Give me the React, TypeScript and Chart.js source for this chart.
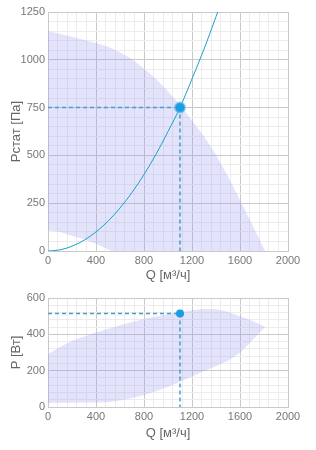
import React, { useEffect, useRef } from "react";
import { Chart, registerables } from "chart.js";

Chart.register(...registerables);

// ---- Data ----
const topUpperQ = [0, 200, 400, 500, 600, 700, 800, 900, 1000, 1100, 1200, 1300, 1400, 1500, 1600, 1700, 1810];
const topUpperP = [1150, 1120, 1088, 1068, 1040, 1003, 955, 900, 835, 764, 683, 600, 503, 390, 267, 140, 0];
const topLowerQ = [530, 480, 400, 300, 200, 100, 0];
const topLowerP = [0, 15, 38, 62, 80, 100, 110];

const systemQ = [0, 100, 200, 300, 400, 500, 600, 700, 800, 900, 1000, 1100, 1200, 1300, 1400, 1414];
const systemP = [0, 6, 25, 56, 100, 156, 225, 306, 400, 506, 625, 750, 900, 1056, 1225, 1250];

const dutyQ = 1100;
const dutyPstat = 750;
const dutyPower = 514;

const powUpperQ = [0, 100, 200, 400, 600, 800, 1000, 1200, 1300, 1400, 1500, 1600, 1700, 1810];
const powUpperP = [290, 330, 365, 410, 450, 485, 512, 533, 540, 538, 525, 500, 475, 440];
const powLowerQ = [1750, 1700, 1600, 1500, 1400, 1300, 1200, 1100, 1000, 900, 800, 700, 600, 500, 0];
const powLowerP = [400, 365, 298, 255, 225, 198, 168, 138, 112, 87, 66, 50, 36, 26, 22];

const xTitle = "Q [м³/ч]";
const topYTitle = "Pстат [Па]";
const bottomYTitle = "P [Вт]";

// ---- Styles ----
const FONT = "'Liberation Sans', Arial, sans-serif";
const MAJOR = "#c9c9c9";
const MINOR = "#ececec";
const FILL = "rgba(150,150,245,0.27)";
const CURVE = "#1ba2c6";
const DASH = "#4a9dc8";
const DOT = "#1b9de2";

const pts = (xs: number[], ys: number[]) => xs.map((x, i) => ({ x, y: ys[i] }));

function makeScales(opts: {
  yMax: number;
  yStep: number;
  yMajor: number;
  yTitle: string;
  xHeight: number;
  xTitlePadBottom: number;
}) {
  return {
    x: {
      type: "linear",
      min: 0,
      max: 2000,
      ticks: {
        stepSize: 80,
        autoSkip: false,
        maxRotation: 0,
        padding: 3,
        color: "#777",
        font: { size: 11, family: FONT },
        callback: (v: any) => (Number(v) % 400 === 0 ? String(v) : ""),
      },
      grid: {
        color: (ctx: any) => (ctx.tick && ctx.tick.value % 400 === 0 ? MAJOR : MINOR),
        drawTicks: false,
      },
      border: { color: MAJOR },
      title: {
        display: true,
        text: xTitle,
        color: "#666",
        font: { size: 13, family: FONT },
        padding: { top: 0, bottom: opts.xTitlePadBottom },
      },
      afterFit: (s: any) => {
        s.height = opts.xHeight;
      },
    },
    y: {
      type: "linear",
      min: 0,
      max: opts.yMax,
      ticks: {
        stepSize: opts.yStep,
        autoSkip: false,
        padding: 3,
        color: "#777",
        font: { size: 11, family: FONT },
        callback: (v: any) => (Number(v) % opts.yMajor === 0 ? String(v) : ""),
      },
      grid: {
        color: (ctx: any) => (ctx.tick && ctx.tick.value % opts.yMajor === 0 ? MAJOR : MINOR),
        drawTicks: false,
      },
      border: { color: MAJOR },
      title: {
        display: true,
        text: opts.yTitle,
        color: "#666",
        font: { size: 13, family: FONT },
        padding: { top: 9, bottom: 0 },
      },
      afterFit: (s: any) => {
        s.width = 48;
      },
    },
  };
}

function baseOptions(scales: any, padTop: number) {
  return {
    responsive: false,
    animation: false,
    events: [],
    layout: { padding: { top: padTop, right: 28, left: 0, bottom: 0 } },
    plugins: { legend: { display: false }, tooltip: { enabled: false } },
    scales,
  };
}

function TopChart() {
  const ref = useRef<HTMLCanvasElement>(null);
  useEffect(() => {
    if (!ref.current) return;
    const chart = new Chart(ref.current, {
      type: "line",
      data: {
        datasets: [
          {
            data: [{ x: dutyQ, y: dutyPstat }],
            showLine: false,
            pointRadius: 5,
            pointBorderWidth: 2,
            pointBackgroundColor: DOT,
            pointBorderColor: "rgba(90,185,235,0.6)",
            order: 0,
          },
          {
            data: [
              { x: 0, y: dutyPstat },
              { x: dutyQ, y: dutyPstat },
            ],
            borderColor: DASH,
            borderWidth: 1.5,
            borderDash: [4, 3],
            pointRadius: 0,
            fill: false,
            order: 1,
          },
          {
            data: [
              { x: dutyQ, y: dutyPstat },
              { x: dutyQ, y: 0 },
            ],
            borderColor: DASH,
            borderWidth: 1.5,
            borderDash: [4, 3],
            pointRadius: 0,
            fill: false,
            order: 1,
          },
          {
            data: pts(systemQ, systemP),
            borderColor: CURVE,
            borderWidth: 1,
            cubicInterpolationMode: "monotone",
            pointRadius: 0,
            fill: false,
            order: 2,
          },
          {
            data: pts(topUpperQ, topUpperP).concat(pts(topLowerQ, topLowerP)),
            borderColor: "transparent",
            borderWidth: 0,
            backgroundColor: FILL,
            pointRadius: 0,
            tension: 0,
            fill: "shape",
            order: 3,
          },
        ],
      },
      options: baseOptions(
        makeScales({ yMax: 1250, yStep: 50, yMajor: 250, yTitle: topYTitle, xHeight: 32, xTitlePadBottom: 0 }),
        12
      ) as any,
    } as any);
    return () => chart.destroy();
  }, []);
  return (
    <canvas
      ref={ref}
      width={316}
      height={283}
      style={{ position: "absolute", left: 0, top: 0, width: 316, height: 283, display: "block" }}
    />
  );
}

function BottomChart() {
  const ref = useRef<HTMLCanvasElement>(null);
  useEffect(() => {
    if (!ref.current) return;
    const chart = new Chart(ref.current, {
      type: "line",
      data: {
        datasets: [
          {
            data: [{ x: dutyQ, y: dutyPower }],
            showLine: false,
            pointRadius: 4,
            pointBorderWidth: 0,
            pointBackgroundColor: DOT,
            pointBorderColor: DOT,
            order: 0,
          },
          {
            data: [
              { x: 0, y: dutyPower },
              { x: dutyQ, y: dutyPower },
            ],
            borderColor: DASH,
            borderWidth: 1.5,
            borderDash: [4, 3],
            pointRadius: 0,
            fill: false,
            order: 1,
          },
          {
            data: [
              { x: dutyQ, y: dutyPower },
              { x: dutyQ, y: 0 },
            ],
            borderColor: DASH,
            borderWidth: 1.5,
            borderDash: [4, 3],
            pointRadius: 0,
            fill: false,
            order: 1,
          },
          {
            data: pts(powUpperQ, powUpperP).concat(pts(powLowerQ, powLowerP)),
            borderColor: "transparent",
            borderWidth: 0,
            backgroundColor: FILL,
            pointRadius: 0,
            tension: 0,
            fill: "shape",
            order: 3,
          },
        ],
      },
      options: baseOptions(
        makeScales({ yMax: 600, yStep: 40, yMajor: 200, yTitle: bottomYTitle, xHeight: 43, xTitlePadBottom: 9 }),
        15
      ) as any,
    } as any);
    return () => chart.destroy();
  }, []);
  return (
    <canvas
      ref={ref}
      width={316}
      height={167}
      style={{ position: "absolute", left: 0, top: 283, width: 316, height: 167, display: "block" }}
    />
  );
}

export default function App() {
  return (
    <div style={{ position: "absolute", left: 0, top: 0, width: 316, height: 450, background: "#fff" }}>
      <TopChart />
      <BottomChart />
    </div>
  );
}
